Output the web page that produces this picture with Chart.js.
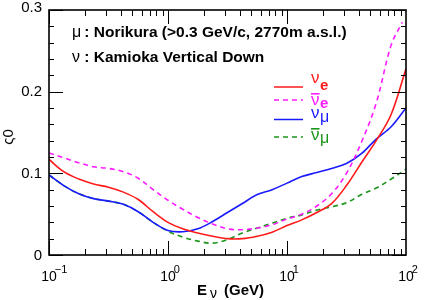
<!DOCTYPE html>
<html>
<head>
<meta charset="utf-8">
<script src="https://cdn.jsdelivr.net/npm/chart.js@4/dist/chart.umd.min.js"></script>
<style>
  html, body { margin: 0; padding: 0; background: #fff; }
</style>
</head>
<body>
<canvas id="chart" width="424" height="300"></canvas>
<script>
// energies in GeV
var energy = [0.1, 0.133, 0.178, 0.237, 0.316, 0.422, 0.562, 0.75, 1, 1.33, 1.78, 2.37, 3.16,
              4.22, 5.62, 7.5, 10, 13.3, 17.8, 23.7, 31.6, 42.2, 56.2, 75, 100];
// anti nu_e curve stops a bit short of 100 GeV
var energyNuEbar = [0.1, 0.133, 0.178, 0.237, 0.316, 0.422, 0.562, 0.75, 1, 1.33, 1.78, 2.37, 3.16,
              4.22, 5.62, 7.5, 10, 13.3, 17.8, 23.7, 31.6, 42.2, 56.2, 75, 93];

var nuE     = [0.117, 0.102, 0.093, 0.087, 0.083, 0.077, 0.068, 0.053, 0.040, 0.032, 0.027, 0.023, 0.020,
               0.020, 0.023, 0.028, 0.036, 0.043, 0.052, 0.063, 0.085, 0.113, 0.140, 0.172, 0.228];
var nuEbar  = [0.125, 0.119, 0.113, 0.108, 0.106, 0.102, 0.094, 0.080, 0.067, 0.056, 0.046, 0.038, 0.032,
               0.031, 0.033, 0.037, 0.044, 0.050, 0.060, 0.075, 0.100, 0.138, 0.186, 0.257, 0.285];
var nuMu    = [0.098, 0.085, 0.075, 0.069, 0.066, 0.062, 0.053, 0.040, 0.030, 0.0285, 0.032, 0.041, 0.052,
               0.063, 0.074, 0.080, 0.088, 0.096, 0.101, 0.106, 0.112, 0.124, 0.142, 0.157, 0.180];
var nuMuBar = [0.098, 0.085, 0.075, 0.069, 0.066, 0.062, 0.053, 0.040, 0.029, 0.022, 0.017, 0.0145, 0.019,
               0.027, 0.033, 0.039, 0.045, 0.049, 0.055, 0.059, 0.064, 0.074, 0.082, 0.093, 0.105];

var yTickLabels = ['0', '0.1', '0.2', '0.3'];
var xTickExp = ['-1', '0', '1', '2'];

var FONT = '"Liberation Sans", Arial, Helvetica, sans-serif';
var RED = '#ff1a1a', MAGENTA = '#ff1aff', BLUE = '#1a1aff', GREEN = '#1a961a';

function pts(xs, ys) {
  return xs.map(function (e, i) { return { x: e, y: ys[i] }; });
}

function seg(ctx, x1, y1, x2, y2) {
  ctx.beginPath(); ctx.moveTo(x1, y1); ctx.lineTo(x2, y2); ctx.stroke();
}

var decorPlugin = {
  id: 'decor',
  afterDatasetsDraw: function (chart) {
    var ctx = chart.ctx, a = chart.chartArea, xs = chart.scales.x, ys = chart.scales.y;
    ctx.save();
    ctx.strokeStyle = '#000';
    ctx.fillStyle = '#000';

    // y ticks, every 0.02, major every 0.1
    ctx.lineWidth = 1;
    for (var i = 0; i <= 15; i++) {
      var py = Math.round(ys.getPixelForValue(i * 0.02)) + 0.5;
      var len = (i % 5 === 0) ? 14 : 5;
      seg(ctx, a.left, py, a.left + len, py);
      seg(ctx, a.right, py, a.right - len, py);
    }
    // x ticks on log scale
    for (var d = -1; d < 2; d++) {
      for (var m = 1; m < 10; m++) {
        var px = Math.round(xs.getPixelForValue(m * Math.pow(10, d))) + 0.5;
        var l = (m === 1) ? 14 : 6;
        seg(ctx, px, a.bottom, px, a.bottom - l);
        seg(ctx, px, a.top, px, a.top + l);
      }
    }

    // frame
    ctx.lineWidth = 1.6;
    ctx.strokeRect(a.left, a.top, a.right - a.left, a.bottom - a.top);

    // y tick labels
    ctx.font = '15px ' + FONT;
    ctx.textAlign = 'right';
    ctx.textBaseline = 'alphabetic';
    yTickLabels.forEach(function (t, k) {
      var py = ys.getPixelForValue(k * 0.1);
      var base = py + 4.5;
      if (k === 3) base = 12;
      ctx.fillText(t, 42, base);
    });

    // x tick labels 10^n
    xTickExp.forEach(function (ex, k) {
      var px = xs.getPixelForValue(Math.pow(10, k - 1));
      ctx.font = '14px ' + FONT;
      ctx.textAlign = 'center';
      ctx.fillText('10', px, 281);
      var w = ctx.measureText('10').width;
      ctx.font = '11px ' + FONT;
      ctx.textAlign = 'left';
      ctx.fillText(ex === '-1' ? '\u2212' + '1' : ex, px + w / 2 - 2, 273);
    });

    // axis titles
    ctx.textAlign = 'left';
    ctx.font = 'bold 15px ' + FONT;
    ctx.fillText('E', 197, 295);
    ctx.font = '14px ' + FONT;
    ctx.fillText('\u03bd', 210, 298);
    ctx.font = 'bold 15px ' + FONT;
    ctx.fillText('(GeV)', 224, 295);

    ctx.save();
    ctx.translate(13, 137);
    ctx.rotate(-Math.PI / 2);
    ctx.font = '15px ' + FONT;
    ctx.textAlign = 'center';
    ctx.fillText('\u03c20', 0, 0);
    ctx.restore();

    // header text
    ctx.textAlign = 'left';
    ctx.font = '16px ' + FONT;
    ctx.fillText('\u03bc', 72, 37);
    ctx.font = 'bold 15.5px ' + FONT;
    ctx.fillText(' : Norikura (>0.3 GeV/c, 2770m a.s.l.)', 80, 37);
    ctx.font = '16px ' + FONT;
    ctx.fillText('\u03bd', 72, 62);
    ctx.font = 'bold 15.5px ' + FONT;
    ctx.fillText(' : Kamioka Vertical Down', 80, 62);

    // legend: line y, label baseline, subscript baseline
    var rows = [
      { c: RED, dash: [], bar: false, sub: 'e', subBold: true, y: 87, t: 83, s: 90 },
      { c: MAGENTA, dash: [5, 4], bar: true, sub: 'e', subBold: true, y: 100, t: 105, s: 108 },
      { c: BLUE, dash: [], bar: false, sub: '\u03bc', subBold: false, y: 119.5, t: 118, s: 122 },
      { c: GREEN, dash: [5, 4], bar: true, sub: '\u03bc', subBold: false, y: 137, t: 140, s: 143 }
    ];
    rows.forEach(function (r) {
      ctx.strokeStyle = r.c;
      ctx.fillStyle = r.c;
      ctx.lineWidth = 1.5;
      ctx.setLineDash(r.dash);
      seg(ctx, 274, r.y, 303, r.y);
      ctx.setLineDash([]);
      ctx.font = '17px ' + FONT;
      ctx.fillText('\u03bd', 311, r.t);
      if (r.bar) ctx.fillRect(311, r.t - 12, 8.5, 1.6);
      ctx.font = (r.subBold ? 'bold 15px ' : '16px ') + FONT;
      ctx.fillText(r.sub, 320, r.s);
    });

    ctx.restore();
  }
};

new Chart(document.getElementById('chart').getContext('2d'), {
  type: 'line',
  data: {
    datasets: [
      { data: pts(energy, nuE), borderColor: RED, borderWidth: 1.6 },
      { data: pts(energyNuEbar, nuEbar), borderColor: MAGENTA, borderWidth: 1.6, borderDash: [5, 4] },
      { data: pts(energy, nuMu), borderColor: BLUE, borderWidth: 1.6 },
      { data: pts(energy, nuMuBar), borderColor: GREEN, borderWidth: 1.6, borderDash: [5, 4] }
    ]
  },
  options: {
    responsive: false,
    animation: false,
    devicePixelRatio: 1,
    layout: { padding: { left: 49, right: 18, top: 10, bottom: 45 } },
    elements: { point: { radius: 0 }, line: { tension: 0.35, fill: false } },
    plugins: { legend: { display: false }, tooltip: { enabled: false } },
    scales: {
      x: { type: 'logarithmic', min: 0.1, max: 100, display: false },
      y: { type: 'linear', min: 0, max: 0.3, display: false }
    }
  },
  plugins: [decorPlugin]
});
</script>
</body>
</html>
